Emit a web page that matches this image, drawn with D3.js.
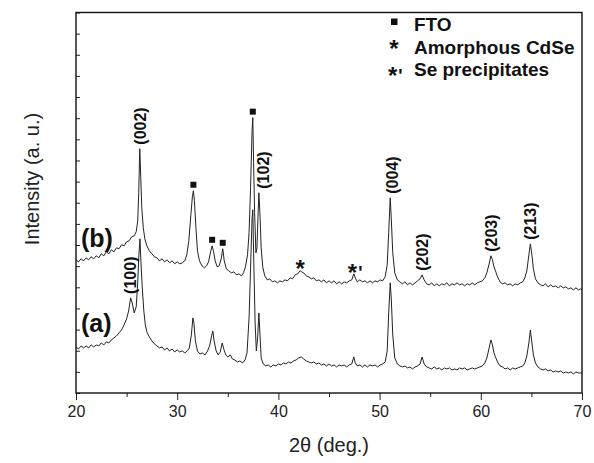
<!doctype html>
<html lang="en">
<head>
<meta charset="utf-8">
<title>XRD of CdSe films</title>
<script src="https://d3js.org/d3.v7.min.js"></script>
<style>
body { margin: 0; background: #fff; }
svg { font-family: "Liberation Sans", Arial, sans-serif; }
</style>
</head>
<body>
<svg id="chart" width="594" height="463"></svg>
<script>

// pattern (b), [2theta, intensity]
const pattern_b = [
  [20.00,133],[20.25,131],[20.50,134],[20.75,132],[21.00,135],[21.25,133],[21.50,136],[21.75,134],
  [22.00,137],[22.25,135],[22.50,139],[22.75,137],[23.00,141],[23.25,139],[23.50,143],[23.75,141],
  [24.00,145],[24.25,144],[24.50,148],[24.75,147],[25.00,151],[25.25,152],[25.50,156],[25.75,157],
  [25.95,161],[26.10,172],[26.20,200],[26.30,244],[26.40,215],[26.50,185],[26.65,165],[26.80,154],
  [27.00,147],[27.25,142],[27.50,139],[27.75,136],[28.00,135],[28.25,132],[28.50,134],[28.75,131],
  [29.00,133],[29.25,130],[29.50,132],[29.75,129],[30.00,131],[30.25,129],[30.50,130],[30.75,132],
  [30.95,138],[31.15,152],[31.35,178],[31.50,196],[31.60,202],[31.70,192],[31.85,165],[32.00,142],
  [32.20,132],[32.45,127],[32.70,125],[32.90,127],[33.10,131],[33.30,141],[33.45,147],[33.60,141],
  [33.75,132],[33.95,126],[34.15,127],[34.35,134],[34.50,144],[34.65,132],[34.85,124],[35.10,122],
  [35.35,120],[35.60,121],[35.85,118],[36.10,119],[36.35,117],[36.55,120],[36.75,126],[36.95,138],
  [37.10,160],[37.25,205],[37.40,262],[37.47,275],[37.55,230],[37.65,180],[37.78,140],[37.88,145],
  [37.98,175],[38.07,200],[38.17,180],[38.30,145],[38.45,126],[38.65,117],[38.90,113],[39.15,114],
  [39.40,111],[39.65,112],[39.90,110],[40.15,112],[40.40,111],[40.65,113],[40.90,112],[41.15,115],
  [41.40,114],[41.65,118],[41.90,119],[42.15,122],[42.30,121],[42.50,120],[42.75,117],[43.00,116],
  [43.25,114],[43.50,115],[43.75,112],[44.00,113],[44.25,111],[44.50,113],[44.75,110],[45.00,112],
  [45.25,110],[45.50,112],[45.75,109],[46.00,111],[46.25,109],[46.50,111],[46.75,110],[47.00,112],
  [47.25,113],[47.45,119],[47.60,115],[47.80,111],[48.05,113],[48.30,111],[48.55,112],[48.80,110],
  [49.05,112],[49.30,110],[49.55,112],[49.80,111],[50.05,113],[50.30,112],[50.55,116],[50.75,128],
  [50.90,160],[51.05,195],[51.15,175],[51.30,140],[51.50,120],[51.75,113],[52.00,111],[52.25,109],
  [52.50,111],[52.75,108],[53.00,110],[53.25,108],[53.50,110],[53.75,112],[54.00,114],[54.20,118],
  [54.40,113],[54.65,109],[54.90,108],[55.15,110],[55.40,107],[55.65,109],[55.90,107],[56.15,109],
  [56.40,108],[56.65,110],[56.90,107],[57.15,109],[57.40,108],[57.65,110],[57.90,108],[58.15,109],
  [58.40,107],[58.65,109],[58.90,108],[59.15,110],[59.40,108],[59.65,110],[59.90,111],[60.15,112],
  [60.40,115],[60.60,120],[60.80,128],[61.00,137],[61.15,133],[61.30,126],[61.45,122],[61.65,116],
  [61.90,111],[62.15,109],[62.40,110],[62.65,108],[62.90,109],[63.15,107],[63.40,109],[63.65,108],
  [63.90,110],[64.15,111],[64.35,115],[64.55,122],[64.75,138],[64.90,149],[65.05,138],[65.20,124],
  [65.40,114],[65.65,110],[65.90,108],[66.15,107],[66.40,109],[66.65,106],[66.90,108],[67.15,106],
  [67.40,107],[67.65,105],[67.90,107],[68.15,105],[68.40,106],[68.65,104],[68.90,105],[69.15,103],
  [69.40,105],[69.65,103],[69.85,104],[70.00,103]
];

// pattern (a)
const pattern_a = [
  [20.00,46],[20.25,44],[20.50,47],[20.75,45],[21.00,47],[21.25,45],[21.50,48],[21.75,46],
  [22.00,48],[22.25,47],[22.50,50],[22.75,48],[23.00,51],[23.25,50],[23.50,53],[23.75,55],
  [24.00,57],[24.25,60],[24.50,63],[24.75,68],[25.00,74],[25.20,82],[25.40,95],[25.55,90],
  [25.75,80],[25.95,86],[26.10,110],[26.20,135],[26.32,154],[26.42,130],[26.55,105],[26.70,82],
  [26.85,68],[27.00,61],[27.25,56],[27.50,52],[27.75,49],[28.00,47],[28.25,45],[28.50,46],
  [28.75,43],[29.00,45],[29.25,42],[29.50,44],[29.75,41],[30.00,43],[30.25,41],[30.50,42],
  [30.75,40],[31.00,42],[31.20,45],[31.40,58],[31.55,75],[31.65,70],[31.80,52],[32.00,42],
  [32.25,39],[32.50,40],[32.75,38],[33.00,42],[33.20,47],[33.40,57],[33.52,62],[33.65,52],
  [33.85,42],[34.05,38],[34.25,41],[34.45,50],[34.60,44],[34.80,38],[35.00,36],[35.25,38],
  [35.45,34],[35.70,33],[35.95,31],[36.20,32],[36.45,30],[36.70,33],[36.90,40],[37.10,75],
  [37.25,125],[37.40,175],[37.47,183],[37.57,130],[37.70,70],[37.82,42],[37.95,55],[38.07,80],
  [38.17,60],[38.30,35],[38.50,29],[38.75,27],[39.00,28],[39.25,26],[39.50,28],[39.75,27],
  [40.00,29],[40.25,28],[40.50,30],[40.75,29],[41.00,31],[41.25,30],[41.50,32],[41.75,33],
  [42.00,35],[42.25,36],[42.50,34],[42.75,32],[43.00,31],[43.25,30],[43.50,31],[43.75,29],
  [44.00,30],[44.25,28],[44.50,29],[44.75,27],[45.00,29],[45.25,27],[45.50,28],[45.75,26],
  [46.00,28],[46.25,27],[46.50,28],[46.75,26],[47.00,28],[47.25,29],[47.45,36],[47.60,30],
  [47.80,27],[48.05,28],[48.30,26],[48.55,28],[48.80,26],[49.05,28],[49.30,27],[49.55,28],
  [49.80,26],[50.05,28],[50.30,29],[50.55,31],[50.75,42],[50.90,80],[51.05,110],[51.15,95],
  [51.30,58],[51.50,35],[51.75,29],[52.00,27],[52.25,26],[52.50,27],[52.75,25],[53.00,26],
  [53.25,24],[53.50,26],[53.75,27],[54.00,29],[54.20,36],[54.40,29],[54.65,26],[54.90,25],
  [55.15,24],[55.40,26],[55.65,24],[55.90,25],[56.15,23],[56.40,25],[56.65,24],[56.90,25],
  [57.15,23],[57.40,24],[57.65,23],[57.90,25],[58.15,24],[58.40,25],[58.65,23],[58.90,24],
  [59.15,25],[59.40,24],[59.65,25],[59.90,26],[60.15,27],[60.40,30],[60.60,35],[60.80,44],
  [61.00,53],[61.15,48],[61.30,40],[61.45,36],[61.65,31],[61.90,27],[62.15,26],[62.40,24],
  [62.65,25],[62.90,23],[63.15,25],[63.40,24],[63.65,25],[63.90,26],[64.15,27],[64.35,30],
  [64.55,37],[64.75,50],[64.90,63],[65.05,50],[65.20,38],[65.40,30],[65.65,26],[65.90,24],
  [66.15,23],[66.40,24],[66.65,22],[66.90,23],[67.15,21],[67.40,22],[67.65,21],[67.90,22],
  [68.15,20],[68.40,21],[68.65,20],[68.90,21],[69.15,19],[69.40,21],[69.65,20],[69.85,20],
  [70.00,20]
];

// reflections marked on the patterns
const hkl_b_labels = ["(002)", "(102)", "(004)", "(202)", "(203)", "(213)"];
const hkl_b_pos = [26.30, 38.07, 51.05, 54.20, 61.00, 64.90];
const hkl_a_labels = ["(100)"];
const hkl_a_pos = [25.40];
const fto_pos = [31.60, 33.45, 34.50, 37.47];
const cdse_amorph_pos = [42.15];
const se_precip_pos = [47.45];

const x_ticks = [20, 30, 40, 50, 60, 70];
const x_minor = [25, 35, 45, 55, 65];
const legend_items = ["FTO", "Amorphous CdSe", "Se precipitates"];

const FONT = "'Liberation Sans', Arial, sans-serif";

let svg = d3.select("#chart");
svg.append("rect").attr("width", 594).attr("height", 463).attr("fill", "#fff");

let x = d3.scaleLinear().domain([20, 70]).range([76, 582]);
let y = d3.scaleLinear().domain([0, 380]).range([393, 12.5]);

// intensity on a pattern nearest to a given angle
function at(series, t) {
  return d3.least(series, d => Math.abs(d[0] - t))[1];
}

let line = d3.line().x(d => x(d[0])).y(d => y(d[1]));

let plot = svg.append("g").attr("font-family", FONT);
plot.append("path").datum(pattern_a)
  .attr("d", line).attr("fill", "none").attr("stroke", "#222").attr("stroke-width", 1);
plot.append("path").datum(pattern_b)
  .attr("d", line).attr("fill", "none").attr("stroke", "#222").attr("stroke-width", 1);

// axes
let xAxis = d3.axisBottom(x).tickValues(x_ticks).tickSize(7).tickSizeOuter(0).tickPadding(6);
let gx = svg.append("g").attr("transform", "translate(0,393)").call(xAxis);
gx.selectAll("text").attr("font-size", 16).attr("fill", "#222").attr("font-family", FONT);
gx.selectAll("line").attr("stroke", "#222");
gx.select(".domain").remove();
svg.append("g").attr("transform", "translate(0,393)")
  .call(d3.axisBottom(x).tickValues(x_minor).tickSize(4).tickFormat(""))
  .call(g => g.select(".domain").remove())
  .selectAll("line").attr("stroke", "#222");

let yAxis = d3.axisLeft(y).tickValues(d3.range(0, 19).map(i => i * 380 / 18))
  .tickSize(-4).tickFormat("");
svg.append("g").attr("transform", "translate(76,0)").call(yAxis)
  .call(g => g.select(".domain").remove())
  .selectAll("line").attr("stroke", "#222");

// frame
svg.append("rect")
  .attr("x", 76).attr("y", 12.5).attr("width", 506).attr("height", 380.5)
  .attr("fill", "none").attr("stroke", "#111").attr("stroke-width", 1.4);

// axis titles
svg.append("text").attr("x", 329).attr("y", 452).attr("text-anchor", "middle")
  .attr("font-family", FONT).attr("font-size", 20).attr("fill", "#222").text("2θ (deg.)");
svg.append("text").attr("transform", "translate(39,179) rotate(-90)")
  .attr("text-anchor", "middle").attr("font-family", FONT).attr("font-size", 20).attr("fill", "#222")
  .text("Intensity (a. u.)");

// hkl labels
function hkl(series, labels, pos) {
  plot.selectAll(null).data(labels).enter().append("text")
    .attr("transform", (d, i) => {
      let dx = d === "(102)" ? 4 : (d === "(004)" ? 2 : 0);
      return "translate(" + (x(pos[i]) + dx) + "," + (y(at(series, pos[i])) - 4) + ") rotate(-90)";
    })
    .attr("dy", "0.36em")
    .attr("font-size", 16).attr("font-weight", "bold").attr("fill", "#111")
    .text(d => d);
}
hkl(pattern_b, hkl_b_labels, hkl_b_pos);
hkl(pattern_a, hkl_a_labels, hkl_a_pos);

// FTO squares
plot.selectAll(null).data(fto_pos).enter().append("rect")
  .attr("x", d => x(d) - 3).attr("y", d => y(at(pattern_b, d)) - 9)
  .attr("width", 6).attr("height", 6).attr("fill", "#111");

// asterisks
plot.selectAll(null).data(cdse_amorph_pos).enter().append("text")
  .attr("x", d => x(d)).attr("y", d => y(at(pattern_b, d)) + 6)
  .attr("text-anchor", "middle").attr("font-size", 24).attr("font-weight", "bold")
  .attr("fill", "#111").text("*");
plot.selectAll(null).data(se_precip_pos).enter().append("text")
  .attr("x", d => x(d) - 6).attr("y", d => y(at(pattern_b, d)) + 7)
  .attr("font-size", 24).attr("font-weight", "bold")
  .attr("fill", "#111").text("*")
  .append("tspan").attr("font-size", 18).attr("dx", 1).attr("dy", -2).text("'");

// sample labels
svg.append("text").attr("x", 81).attr("y", 247).attr("font-family", FONT).attr("font-size", 25)
  .attr("font-weight", "bold").attr("fill", "#111").text("(b)");
svg.append("text").attr("x", 81).attr("y", 332).attr("font-family", FONT).attr("font-size", 25)
  .attr("font-weight", "bold").attr("fill", "#111").text("(a)");

// legend
let legend = svg.append("g").attr("font-family", FONT);
legend.append("rect").attr("x", 391).attr("y", 18.5).attr("width", 6.5).attr("height", 6.5).attr("fill", "#111");
legend.append("text").attr("x", 394).attr("y", 56.5).attr("text-anchor", "middle")
  .attr("font-size", 24).attr("font-weight", "bold").attr("fill", "#111").text("*");
legend.append("text").attr("x", 388).attr("y", 84)
  .attr("font-size", 24).attr("font-weight", "bold").attr("fill", "#111").text("*")
  .append("tspan").attr("font-size", 18).attr("dx", 1).attr("dy", -2).text("'");
legend.selectAll(null).data(legend_items).enter().append("text")
  .attr("x", 414).attr("y", (d, i) => 31 + i * 22.5)
  .attr("font-size", 19).attr("font-weight", "bold").attr("fill", "#111")
  .text(d => d);

</script>
</body>
</html>
